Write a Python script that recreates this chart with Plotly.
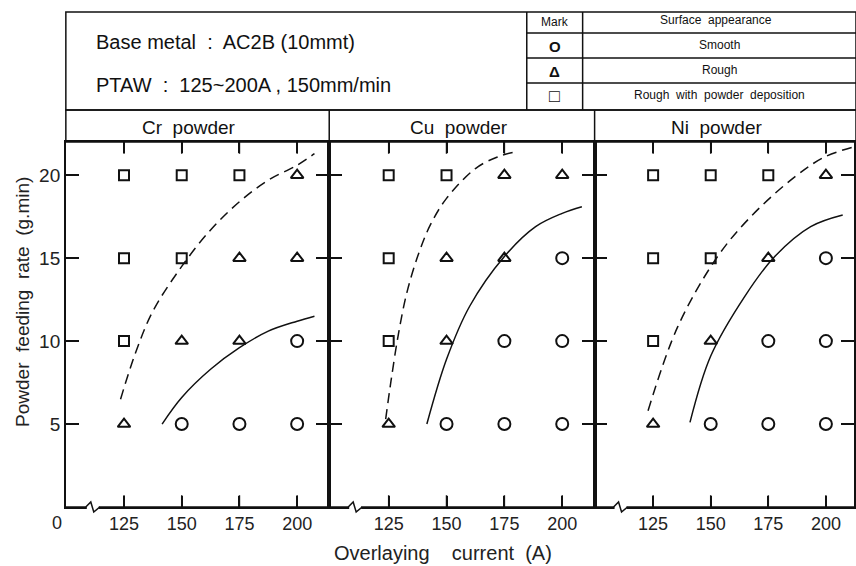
import plotly.graph_objects as go
from plotly.subplots import make_subplots

W, H = 856, 566

# ---------------- data ----------------
currents = [125, 150, 175, 200]
rates = [5, 10, 15, 20]
panels = ["Cr powder", "Cu powder", "Ni powder"]

# marks: 'o' smooth, 't' rough, 's' rough with powder deposition ; rows = rates 5,10,15,20
cr_marks = [["t", "o", "o", "o"],
            ["s", "t", "t", "o"],
            ["s", "s", "t", "t"],
            ["s", "s", "s", "t"]]
cu_marks = [["t", "o", "o", "o"],
            ["s", "t", "o", "o"],
            ["s", "t", "t", "o"],
            ["s", "s", "t", "t"]]
ni_marks = [["t", "o", "o", "o"],
            ["s", "t", "o", "o"],
            ["s", "s", "t", "o"],
            ["s", "s", "s", "t"]]

cr_dash_x = [123.5, 130, 137.5, 150, 162.5, 175, 187.5, 200, 207.5]
cr_dash_y = [6.5, 9.3, 11.8, 14.5, 16.7, 18.4, 19.7, 20.6, 21.3]
cr_solid_x = [141.5, 150, 162.5, 175, 187.5, 200, 207.5]
cr_solid_y = [5.0, 6.6, 8.3, 9.6, 10.6, 11.2, 11.5]

cu_dash_x = [123.7, 126, 129.3, 133, 138, 143, 150, 162.5, 172, 181]
cu_dash_y = [5.3, 7.6, 10.5, 13.0, 15.3, 17.0, 18.6, 20.4, 21.1, 21.45]
cu_solid_x = [141.5, 150, 160, 175, 188.5, 200, 208.5]
cu_solid_y = [5.0, 8.9, 12.1, 15.1, 16.9, 17.7, 18.1]

ni_dash_x = [122.8, 135.8, 153, 167.4, 186.5, 199.5, 212]
ni_dash_y = [5.8, 10.9, 15.1, 17.5, 19.9, 21.1, 21.7]
ni_solid_x = [141, 150, 164.8, 177.8, 193.4, 207.3]
ni_solid_y = [5.1, 9.1, 12.7, 15.1, 16.9, 17.6]

legend_marks = ["O", "Δ", "□"]
legend_texts = ["Smooth", "Rough", "Rough  with  powder  deposition"]
x_ticks = [125, 150, 175, 200]
y_ticks = [5, 10, 15, 20]
y_range = [0, 22]

# ---------------- layout helpers ----------------
def px(x):
    return x / W

def py(y):
    return 1 - y / H

FONT = "Liberation Sans, Arial, sans-serif"
INK = "#111111"
GREY = "#222222"

panel_px = [(66, 330), (330, 596), (596, 856)]
x_ranges = [[99.8, 213.9], [99.3, 214.0], [99.6, 212.2]]
y_top_px, y_bot_px = 142, 507
# axis-break zigzag positions (pixel x of start of each break)
break_px = [86, 349, 615]
tick_frac = 0.032  # tick length as a fraction of the y span

symbol_map = {"o": "circle-open", "t": "triangle-up-open", "s": "square-open"}
size_map = {"o": 12, "t": 11, "s": 10}

fig = make_subplots(rows=1, cols=3, horizontal_spacing=0)
all_marks = [cr_marks, cu_marks, ni_marks]
dashes = [(cr_dash_x, cr_dash_y), (cu_dash_x, cu_dash_y), (ni_dash_x, ni_dash_y)]
solids = [(cr_solid_x, cr_solid_y), (cu_solid_x, cu_solid_y), (ni_solid_x, ni_solid_y)]

span = y_range[1] - y_range[0]
for i in range(3):
    # x tick marks at bottom and top (inward), on the panel's own x scale
    tx, ty = [], []
    for t in x_ticks:
        tx += [t, t, None, t, t, None]
        ty += [y_range[0], y_range[0] + tick_frac * span, None,
               y_range[1], y_range[1] - tick_frac * span, None]
    fig.add_trace(go.Scatter(x=tx, y=ty, mode="lines", showlegend=False, hoverinfo="skip",
                             cliponaxis=False, line=dict(color=INK, width=1.5)),
                  row=1, col=i + 1)
    for kind in ["o", "t", "s"]:
        xs, ys = [], []
        for r, rate in enumerate(rates):
            for c, cur in enumerate(currents):
                if all_marks[i][r][c] == kind:
                    xs.append(cur)
                    ys.append(rate)
        fig.add_trace(go.Scatter(
            x=xs, y=ys, mode="markers", showlegend=False,
            marker=dict(symbol=symbol_map[kind], size=size_map[kind], color=INK,
                        line=dict(width=2, color=INK))), row=1, col=i + 1)
    dx, dy = dashes[i]
    fig.add_trace(go.Scatter(x=dx, y=dy, mode="lines", showlegend=False,
                             line=dict(color=INK, width=1.5, dash="10px,6px", shape="spline")),
                  row=1, col=i + 1)
    sx, sy = solids[i]
    fig.add_trace(go.Scatter(x=sx, y=sy, mode="lines", showlegend=False,
                             line=dict(color=INK, width=1.5, shape="spline")),
                  row=1, col=i + 1)

fig.update_layout(
    width=W, height=H, margin=dict(l=0, r=0, t=0, b=0),
    paper_bgcolor="white", plot_bgcolor="white",
    font=dict(family=FONT, color=INK),
)
fig.update_xaxes(tickmode="array", tickvals=x_ticks, ticks="inside", ticklen=11,
                 tickwidth=1.5, tickcolor=INK, showline=True, linecolor=INK, linewidth=1.6,
                 mirror="ticks", showgrid=False, zeroline=False,
                 tickfont=dict(size=18, color=GREY, family=FONT))
fig.update_yaxes(range=y_range, domain=[py(y_bot_px), py(y_top_px)],
                 tickmode="array", tickvals=y_ticks, ticks="inside", ticklen=13,
                 tickwidth=1.5, tickcolor=INK, showline=True, linecolor=INK, linewidth=1.6,
                 mirror="ticks", showgrid=False, zeroline=False,
                 tickfont=dict(size=19, color=GREY, family=FONT))
for i in range(3):
    fig.update_xaxes(domain=[px(panel_px[i][0]), px(panel_px[i][1])], range=x_ranges[i],
                     row=1, col=i + 1)
    if i > 0:
        fig.update_yaxes(showticklabels=False, row=1, col=i + 1)

shapes = []
line = dict(color=INK, width=1.5)
# header box
shapes.append(dict(type="rect", xref="paper", yref="paper", x0=px(66), x1=px(858),
                   y0=py(110), y1=py(12), line=line))
# title band
shapes.append(dict(type="rect", xref="paper", yref="paper", x0=px(66), x1=px(858),
                   y0=py(142), y1=py(110), line=line))
for xd in (330, 596):
    shapes.append(dict(type="line", xref="paper", yref="paper", x0=px(xd), x1=px(xd),
                       y0=py(142), y1=py(110), line=line))
# table
for xd in (528, 584):
    shapes.append(dict(type="line", xref="paper", yref="paper", x0=px(xd), x1=px(xd),
                       y0=py(110), y1=py(12), line=line))
for yd in (33, 58, 83):
    shapes.append(dict(type="line", xref="paper", yref="paper", x0=px(528), x1=px(858),
                       y0=py(yd), y1=py(yd), line=line))
# bottom frame line of the panels
shapes.append(dict(type="line", xref="paper", yref="paper", x0=px(66), x1=px(858),
                   y0=py(y_bot_px), y1=py(y_bot_px), line=dict(color=INK, width=1.6)))
# axis breaks (zigzag) in paper coordinates
for b in break_px:
    shapes.append(dict(type="line", xref="paper", yref="paper", x0=px(b + 1), x1=px(b + 13),
                       y0=py(y_bot_px), y1=py(y_bot_px), line=dict(color="white", width=4)))
    path = (f"M {px(b)},{py(y_bot_px)} L {px(b + 5)},{py(y_bot_px - 5)} "
            f"L {px(b + 8)},{py(y_bot_px + 5)} L {px(b + 14)},{py(y_bot_px)}")
    shapes.append(dict(type="path", xref="paper", yref="paper", path=path,
                       line=dict(color=INK, width=1.5)))
fig.update_layout(shapes=shapes)

ann = []
def text(x, y, s, size, anchor="center", color=INK):
    ann.append(dict(x=px(x), y=py(y), xref="paper", yref="paper", text=s, showarrow=False,
                    xanchor=anchor, yanchor="middle", font=dict(size=size, family=FONT, color=color)))

text(94, 42, "Base metal  :  AC2B (10mmt)", 20, "left")
text(94, 85, "PTAW  :  125~200A , 150mm/min", 20, "left")
text(556, 22, "Mark", 12)
text(718, 20, "Surface  appearance", 12)
mark_sizes = [15, 15, 18]
for k in range(3):
    text(556, 46 + 25 * k, "<b>" + legend_marks[k] + "</b>", mark_sizes[k])
    text(721, 45 + 25 * k, legend_texts[k], 12)
for i, name in enumerate(panels):
    cx = [189, 460, 718][i]
    text(cx, 127, name.replace(" ", "  "), 19)
text(57, 523, "0", 18, color=GREY)
text(444, 553, "Overlaying    current  (A)", 20, color=GREY)
ann.append(dict(x=px(22), y=py(302), xref="paper", yref="paper", text="Powder  feeding  rate  (g.min)",
                showarrow=False, textangle=-90, xanchor="center", yanchor="middle",
                font=dict(size=19, family=FONT, color=GREY)))
fig.update_layout(annotations=ann)

fig.write_html("out.html")
